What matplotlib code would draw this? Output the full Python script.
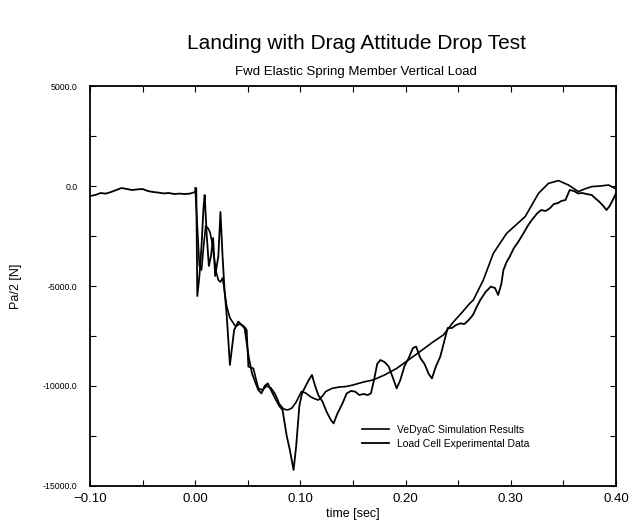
import matplotlib
matplotlib.use("Agg")
import matplotlib.pyplot as plt
from matplotlib.ticker import MultipleLocator, FixedLocator

plt.rcParams['font.family'] = ['Liberation Sans', 'DejaVu Sans']

# VeDyaC simulation (smooth curve)
sim_t = [0.000, 0.002, 0.004, 0.006, 0.008, 0.010, 0.012, 0.014, 0.016, 0.018,
         0.020, 0.022, 0.024, 0.026, 0.028, 0.030, 0.033, 0.0385, 0.042, 0.0447,
         0.047, 0.049, 0.0505, 0.0553, 0.060, 0.064, 0.068, 0.072, 0.076, 0.080,
         0.084, 0.088, 0.092, 0.096, 0.101, 0.105, 0.110, 0.114, 0.117, 0.121,
         0.124, 0.130, 0.137, 0.143, 0.150, 0.160, 0.169, 0.180, 0.1915, 0.200,
         0.2137, 0.226, 0.2359, 0.2454, 0.254, 0.261, 0.2644, 0.2739, 0.2834, 0.296,
         0.3137, 0.3263, 0.3358, 0.3453, 0.3548, 0.3643, 0.370, 0.377, 0.385, 0.393,
         0.399]
sim_v = [-100, -2000, -4000, -4200, -3000, -2000, -2100, -2300, -2800, -3600,
         -4300, -4700, -4800, -4600, -5300, -6030, -6600, -7030, -6900, -6950,
         -7050, -7200, -9030, -9120, -10120, -10200, -10000, -10100, -10400, -10900,
         -11150, -11200, -11100, -10800, -10280, -10350, -10550, -10650, -10700, -10500,
         -10280, -10120, -10050, -10030, -9950, -9800, -9700, -9450, -9120, -8800,
         -8280, -7800, -7450, -6800, -6300, -5870, -5700, -4700, -3370, -2370,
         -1530, -370, 130, 270, 50, -280, -150, -30, 0, 50,
         -120]

# Load cell experimental data (noisy curve)
exp_t = [-0.100, -0.095, -0.090, -0.085, -0.080, -0.075, -0.070, -0.065, -0.060, -0.055,
         -0.050, -0.045, -0.040, -0.035, -0.030, -0.025, -0.020, -0.015, -0.010, -0.005,
         0.000, 0.001, 0.002, 0.004, 0.006, 0.008, 0.009, 0.011, 0.013, 0.015,
         0.017, 0.019, 0.022, 0.024, 0.026, 0.028, 0.030, 0.033, 0.037, 0.041,
         0.045, 0.047, 0.051, 0.054, 0.057, 0.060, 0.063, 0.066, 0.069, 0.072,
         0.076, 0.080, 0.083, 0.087, 0.090, 0.0935, 0.096, 0.099, 0.1015, 0.105,
         0.108, 0.111, 0.114, 0.117, 0.121, 0.125, 0.129, 0.1316, 0.135, 0.140,
         0.144, 0.148, 0.152, 0.156, 0.160, 0.164, 0.167, 0.170, 0.173, 0.176,
         0.180, 0.184, 0.188, 0.1915, 0.195, 0.199, 0.203, 0.207, 0.210, 0.214,
         0.218, 0.222, 0.225, 0.229, 0.233, 0.237, 0.240, 0.244, 0.248, 0.252,
         0.256, 0.260, 0.264, 0.268, 0.271, 0.276, 0.281, 0.285, 0.288, 0.291,
         0.293, 0.296, 0.299, 0.303, 0.307, 0.312, 0.316, 0.320, 0.325, 0.329,
         0.333, 0.337, 0.341, 0.345, 0.348, 0.352, 0.356, 0.360, 0.364, 0.368,
         0.372, 0.377, 0.380, 0.384, 0.388, 0.391, 0.394, 0.397, 0.400]
exp_v = [-500, -450, -350, -380, -300, -200, -100, -150, -200, -170,
         -150, -250, -300, -330, -370, -350, -400, -380, -400, -380,
         -300, -100, -5500, -4500, -3000, -1000, -450, -2500, -4000, -3500,
         -2600, -4500, -3500, -1300, -3500, -5300, -6500, -8950, -7200, -6780,
         -7000, -7120, -8600, -9370, -9800, -10200, -10370, -10000, -9870, -10200,
         -10620, -11000, -11200, -12500, -13200, -14200, -13000, -11000, -10370, -10000,
         -9700, -9450, -10000, -10450, -10780, -11300, -11700, -11870, -11400, -10870,
         -10370, -10250, -10280, -10450, -10400, -10450, -10370, -9700, -8900, -8700,
         -8800, -9030, -9600, -10120, -9700, -9000, -8600, -8100, -8030, -8600,
         -8900, -9400, -9620, -9000, -8530, -7700, -7100, -7100, -6950, -6870,
         -6900, -6700, -6450, -6000, -5700, -5300, -5030, -5100, -5450, -4900,
         -4200, -3800, -3530, -3100, -2800, -2370, -2000, -1700, -1370, -1200,
         -1250, -1120, -900, -850, -750, -700, -200, -250, -370, -350,
         -400, -450, -600, -780, -1000, -1200, -1000, -700, -370]

x_ticks = [-0.1, 0.0, 0.1, 0.2, 0.3, 0.4]
x_labels = ['\u22120.10', '0.00', '0.10', '0.20', '0.30', '0.40']
y_ticks = [5000, 0, -5000, -10000, -15000]
y_labels = ['5000.0', '0.0', '-5000.0', '-10000.0', '-15000.0']

fig = plt.figure(figsize=(6.29, 5.29), dpi=100)
ax = fig.add_axes([0.1431, 0.0813, 0.8362, 0.7561])

ax.plot(sim_t, sim_v, color='black', lw=1.2, label='VeDyaC Simulation Results')
ax.plot(exp_t, exp_v, color='black', lw=1.3, label='Load Cell Experimental Data')

ax.set_xlim(-0.1, 0.4)
ax.set_ylim(-15000, 5000)

ax.xaxis.set_major_locator(FixedLocator(x_ticks))
ax.xaxis.set_minor_locator(MultipleLocator(0.05))
ax.yaxis.set_major_locator(FixedLocator(y_ticks))
ax.yaxis.set_minor_locator(MultipleLocator(2500))
ax.set_xticklabels(x_labels, fontsize=9.5)
ax.set_yticklabels(y_labels, fontsize=6.3)
ax.tick_params(which='both', direction='in', top=True, right=True, length=4, width=0.8)
ax.tick_params(axis='y', pad=9)
ax.tick_params(axis='x', pad=5)

for s in ax.spines.values():
    s.set_linewidth(1.3)

ax.set_xlabel('time [sec]', fontsize=9, labelpad=2)
ax.set_ylabel('Pa/2 [N]', fontsize=9, labelpad=15)

fig.text(0.566, 0.917, 'Landing with Drag Attitude Drop Test', ha='center', va='center', fontsize=15)
fig.text(0.566, 0.864, 'Fwd Elastic Spring Member Vertical Load', ha='center', va='center', fontsize=9.5)

ax.legend(loc='lower left', bbox_to_anchor=(0.5, 0.07), frameon=False, fontsize=7.5,
          handlelength=2.6, handletextpad=0.7, labelspacing=0.35)

fig.savefig('out.png', dpi=100)
